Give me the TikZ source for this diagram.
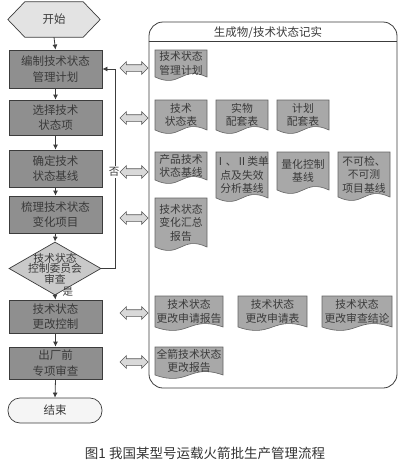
\documentclass[tikz,border=0pt]{standalone}
\usepackage{fontspec}
\setmainfont{Noto Sans CJK SC}
\usetikzlibrary{shapes.geometric,shapes.arrows,arrows.meta}
\definecolor{boxfill}{HTML}{8F8F8F}
\definecolor{docfill}{HTML}{A8A8A8}
\definecolor{txt}{HTML}{3A3A3A}
\definecolor{edge}{HTML}{3C3C3C}
\tikzset{
  procbox/.style={draw=edge, line width=0.8pt, fill=boxfill, minimum width=93pt, inner sep=0pt, align=center, text=txt, font=\fontsize{11.5}{15.5}\selectfont},
  flowarrow/.style={-{Latex[length=5pt,width=5pt]}, line width=0.8pt, draw=edge},
  dblarrow/.style={double arrow, draw=gray!70!black, fill=gray!30, line width=0.6pt, minimum height=28pt, inner sep=3pt, double arrow head extend=3pt, double arrow head indent=0pt},
  doctext/.style={align=center, text=txt, inner sep=0pt, font=\fontsize{10.8}{13.5}\selectfont},
  docshape/.style={draw=edge!80, line width=0.6pt, fill=docfill},
  lbl/.style={text=txt, font=\fontsize{10.5}{12}\selectfont, inner sep=1pt}
}
\newcommand\docnode[6]{%
  \filldraw[docshape] (#2,#3) -- ({#2+#4},#3) -- ({#2+#4},{#3+#5})
    .. controls ({#2+0.5*#4},{#3+#5-12}) and ({#2+0.5*#4},{#3+#5+12}) .. (#2,{#3+#5}) -- cycle;
  \node[doctext] (#1) at ({#2+0.5*#4},{#3+0.5*#5}) {#6};
}
\begin{document}
\begin{tikzpicture}[x=1pt,y=-1pt]
\useasboundingbox (0,0) rectangle (410,464);
% start hexagon
\node[minimum width=92pt, minimum height=35pt, inner sep=0pt] (start) at (54,19.5) {};
\filldraw[draw=edge, fill=gray!22, line width=0.7pt] (start.west) -- ([xshift=17pt]start.north west) -- ([xshift=-17pt]start.north east) -- (start.east) -- ([xshift=-17pt]start.south east) -- ([xshift=17pt]start.south west) -- cycle;
\node[text=txt, font=\fontsize{11.5}{13}\selectfont] at (start.center) {开始};
% process boxes
\node[procbox, minimum height=38pt] (b1) at (55.5,69) {编制技术状态\\管理计划};
\node[procbox, minimum height=35pt] (b2) at (55.5,117.5) {选择技术\\状态项};
\node[procbox, minimum height=37pt] (b3) at (55.5,168.5) {确定技术\\状态基线};
\node[procbox, minimum height=37pt] (b4) at (55.5,214.5) {梳理技术状态\\变化项目};
\node[diamond, draw=edge, fill=gray!42, line width=0.7pt, minimum width=92pt, minimum height=53pt, inner sep=0pt] (dia) at (55,268.5) {};
\node[align=center, text=txt, inner sep=0pt, font=\fontsize{10.8}{10.5}\selectfont] at (dia.center) {技术状态\\控制委员会\\审查};
\node[procbox, minimum height=33pt] (b5) at (55.5,316.5) {技术状态\\更改控制};
\node[procbox, minimum height=32pt] (b6) at (55.5,363) {出厂前\\专项审查};
\node[draw=edge, fill=gray!8, line width=0.7pt, rounded corners=12pt, minimum width=94pt, minimum height=25pt, text=txt, font=\fontsize{11.5}{13}\selectfont] (end) at (55,410.5) {结束};
% flow arrows
\draw[flowarrow] (start.south) -- (b1.north);
\draw[flowarrow] (b1.south) -- (b2.north);
\draw[flowarrow] (b2.south) -- (b3.north);
\draw[flowarrow] (b3.south) -- (b4.north);
\draw[flowarrow] (b4.south) -- (dia.north);
\draw[flowarrow] (dia.south) -- (b5.north);
\draw[flowarrow] (b5.south) -- (b6.north);
\draw[flowarrow] (b6.south) -- (end.north);
\coordinate (fbk) at (115,268.5);
\draw[flowarrow] (dia.east) -- (fbk) -- (fbk |- b1.east) -- (b1.east);
\node[lbl, fill=white] at (114,172) {否};
\node[lbl] at (68,292) {是};
% double arrows
\node[dblarrow] (d1) at (134,68) {};
\node[dblarrow] (d2) at (134,118) {};
\node[dblarrow] (d3) at (134,172) {};
\node[dblarrow] (d4) at (134,218) {};
\node[dblarrow] (d5) at (134,313) {};
\node[dblarrow] (d6) at (134,362) {};
% panel
\node[draw=edge, line width=0.8pt, rounded corners=14pt, minimum width=248pt, minimum height=366pt, inner sep=0pt] (panel) at (273,205) {};
\draw[draw=edge, line width=0.8pt] ([yshift=-20pt]panel.north west) -- ([yshift=-20pt]panel.north east);
\node[text=txt, font=\fontsize{11.5}{13}\selectfont] (ptitle) at (268,32.5) {生成物/技术状态记实};
% documents
\docnode{p1}{155}{50}{52}{27}{技术状态\\管理计划}
\docnode{p2}{155}{100}{52}{30}{技术\\状态表}
\docnode{p3}{216}{100}{52}{30}{实物\\配套表}
\docnode{p4}{277}{100}{52}{30}{计划\\配套表}
\docnode{p5}{155}{152}{52}{28}{产品技术\\状态基线}
\docnode{p6}{216}{152}{52}{46}{Ⅰ、Ⅱ类单\\点及失效\\分析基线}
\docnode{p7}{277}{152}{52}{38}{量化控制\\基线}
\docnode{p8}{338}{152}{52}{45}{不可检、\\不可测\\项目基线}
\docnode{p9}{155}{198}{52}{49}{技术状态\\变化汇总\\报告}
\docnode{p10}{155}{296}{68}{31}{技术状态\\更改申请报告}
\docnode{p11}{238}{296}{69}{31}{技术状态\\更改申请表}
\docnode{p12}{322}{296}{70}{31}{技术状态\\更改审查结论}
\docnode{p13}{155}{347}{68}{28}{全箭技术状态\\更改报告}
% caption
\node[text=black!80, font=\fontsize{13.5}{15}\selectfont] (cap) at (205,453) {图1 我国某型号运载火箭批生产管理流程};
\end{tikzpicture}
\end{document}
